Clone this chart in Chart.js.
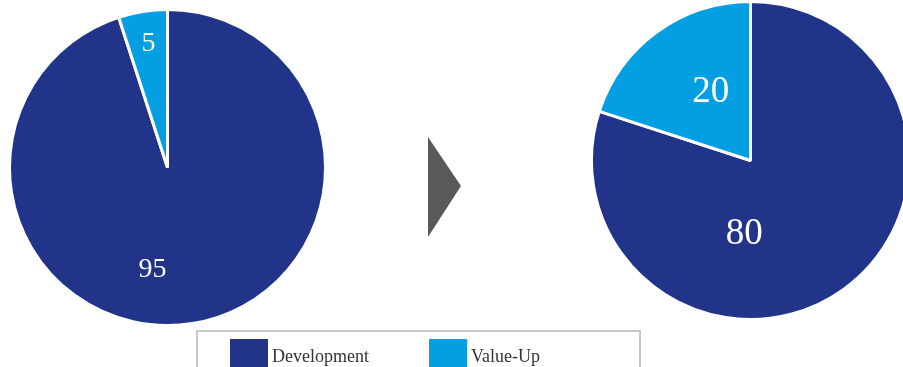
<!DOCTYPE html>
<html>
<head>
<meta charset="utf-8">
<script src="https://cdn.jsdelivr.net/npm/chart.js@4"></script>
<style>
  html, body { margin: 0; padding: 0; background: #fff; overflow: hidden; width: 903px; height: 367px; }
  #stage { position: relative; width: 903px; height: 367px; overflow: hidden; }
  .pie { position: absolute; }
  #pie-before { left: 8px; top: 8px; width: 319px; height: 319px; }
  #pie-after { left: 590px; top: 0px; width: 321px; height: 321px; }
  #arrow { position: absolute; left: 0; top: 0; }
  #legend {
    position: absolute; left: 196px; top: 330px; width: 445px; height: 50px;
    border: 2px solid #c8c8c8; box-sizing: border-box;
    font-family: "Liberation Serif", "DejaVu Serif", serif; font-size: 18px; color: #333;
  }
  .item { position: absolute; top: 7px; height: 30px; }
  .swatch { position: absolute; left: 0; top: 0; width: 38px; height: 30px; }
  .item span { position: absolute; left: 42px; top: 7px; white-space: nowrap; }
</style>
</head>
<body>
<div id="stage">
  <div class="pie" id="pie-before"><canvas id="chart-before"></canvas></div>
  <div class="pie" id="pie-after"><canvas id="chart-after"></canvas></div>
  <svg id="arrow" width="903" height="367"><polygon points="428,137 461,186 428,237" fill="#595959"/></svg>
  <div id="legend"></div>
</div>
<script>
const categories = ['Development', 'Value-Up'];
const beforeValues = [95, 5];
const afterValues = [80, 20];
const colors = ['#22348a', '#039fe2'];

// labels sit where the slides put them, given as offsets from the pie centre (in radii)
const valueLabels = {
  id: 'valueLabels',
  afterDatasetsDraw(chart, args, opts) {
    const ctx = chart.ctx;
    const meta = chart.getDatasetMeta(0);
    ctx.save();
    ctx.fillStyle = '#fff';
    ctx.textAlign = 'center';
    ctx.textBaseline = 'middle';
    ctx.font = opts.size + 'px "Liberation Serif", "DejaVu Serif", serif';
    meta.data.forEach((arc, i) => {
      const r = arc.outerRadius;
      const off = opts.offsets[i];
      ctx.fillText(String(chart.data.datasets[0].data[i]), arc.x + off[0] * r, arc.y + off[1] * r);
    });
    ctx.restore();
  }
};

function drawPie(canvasId, values, labelOpts) {
  return new Chart(document.getElementById(canvasId), {
    type: 'pie',
    data: {
      labels: categories,
      datasets: [{
        data: values,
        backgroundColor: colors,
        borderColor: '#ffffff',
        borderWidth: 3
      }]
    },
    options: {
      responsive: true,
      maintainAspectRatio: false,
      animation: false,
      layout: { padding: 0 },
      plugins: {
        legend: { display: false },
        tooltip: { enabled: false },
        valueLabels: labelOpts
      }
    },
    plugins: [valueLabels]
  });
}

drawPie('chart-before', beforeValues, { size: 28, offsets: [[-0.095, 0.645], [-0.12, -0.785]] });
drawPie('chart-after', afterValues, { size: 37, offsets: [[-0.04, 0.465], [-0.25, -0.43]] });

// shared legend under both pies
const legend = document.getElementById('legend');
const legendX = [32, 231];
categories.forEach((name, i) => {
  const item = document.createElement('div');
  item.className = 'item';
  item.style.left = legendX[i] + 'px';
  item.innerHTML = '<div class="swatch" style="background:' + colors[i] + '"></div><span>' + name + '</span>';
  legend.appendChild(item);
});
</script>
</body>
</html>
